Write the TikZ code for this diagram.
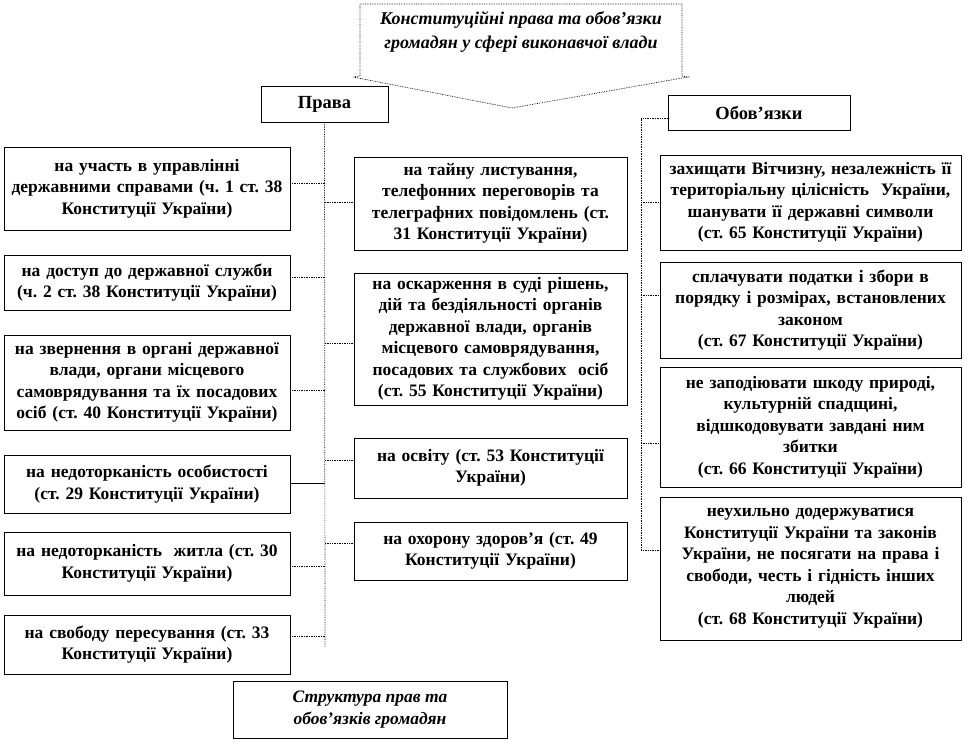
\documentclass[tikz,border=0pt]{standalone}
\usepackage{fontspec}
\setmainfont{Liberation Serif}
\frenchspacing
\begin{document}
\begin{tikzpicture}[x=1pt,y=-1pt]
\tikzset{
  txt/.style={font=\bfseries\fontsize{17.5}{21.5}\selectfont, align=center},
  box/.style={txt, draw=black, line width=0.7pt, inner sep=0pt},
  conn/.style={draw=black, line width=0.7pt, densely dotted},
  callout/.style={draw=black, line width=0.7pt, densely dotted}
}
\useasboundingbox (0,0) rectangle (965,743);

% title callout
\draw[callout] (360,4) -- (682,4) -- (682,76) -- (688,77) -- (512,108) -- (353,77) -- (360,76) -- cycle;
\node[txt, font=\bfseries\itshape\fontsize{18}{24}\selectfont] (title) at (521,32)
  {Конституційні права та обов'язки\\громадян у сфері виконавчої влади};

% headers
\node[box, font=\bfseries\fontsize{18.5}{22}\selectfont, minimum width=127, minimum height=36] (prava) at (324.5,104) {Права};
\node[box, font=\bfseries\fontsize{18.5}{22}\selectfont, minimum width=182, minimum height=35] (obov) at (759,112.5) {Обов’язки};

% left column
\node[box, minimum width=286, minimum height=83, text width=282] (L1) at (147,188.5)
  {на участь в управлінні\\державними справами (ч. 1 ст. 38\\Конституції України)};
\node[box, minimum width=286, minimum height=55, text width=282] (L2) at (147,282.5)
  {на доступ до державної служби\\(ч. 2 ст. 38 Конституції України)};
\node[box, minimum width=286, minimum height=95, text width=282] (L3) at (147,382.5)
  {на звернення в органі державної\\влади, органи місцевого\\самоврядування та їх посадових\\осіб (ст. 40 Конституції України)};
\node[box, minimum width=286, minimum height=58, text width=282] (L4) at (147,484)
  {на недоторканість особистості\\(ст. 29 Конституції України)};
\node[box, minimum width=286, minimum height=63, text width=282] (L5) at (147,563.5)
  {на недоторканість\ \ житла (ст. 30\\Конституції України)};
\node[box, minimum width=286, minimum height=59, text width=282] (L6) at (147,644.5)
  {на свободу пересування (ст. 33\\Конституції України)};

% middle column
\node[box, minimum width=273, minimum height=93, text width=269] (M1) at (490.5,203.5)
  {на тайну листування,\\телефонних переговорів та\\телеграфних повідомлень (ст.\\31 Конституції України)};
\node[box, minimum width=273, minimum height=132, text width=269] (M2) at (490.5,339)
  {на оскарження в суді рішень,\\дій та бездіяльності органів\\державної влади, органів\\місцевого самоврядування,\\посадових та службових\ \ осіб\\(ст. 55 Конституції України)};
\node[box, minimum width=273, minimum height=60, text width=269] (M3) at (490.5,468)
  {на освіту (ст. 53 Конституції\\України)};
\node[box, minimum width=273, minimum height=58, text width=269] (M4) at (490.5,551)
  {на охорону здоров'я (ст. 49\\Конституції України)};

% right column
\node[box, minimum width=301, minimum height=95, text width=297] (R1) at (810.5,202.5)
  {захищати Вітчизну, незалежність її\\територіальну цілісність\ \ України,\\шанувати її державні символи\\(ст. 65 Конституції України)};
\node[box, minimum width=301, minimum height=96, text width=297] (R2) at (810.5,310)
  {сплачувати податки і збори в\\порядку і розмірах, встановлених\\законом\\(ст. 67 Конституції України)};
\node[box, minimum width=301, minimum height=120, text width=297] (R3) at (810.5,427)
  {не заподіювати шкоду природі,\\культурній спадщині,\\відшкодовувати завдані ним\\збитки\\(ст. 66 Конституції України)};
\node[box, minimum width=301, minimum height=143, text width=297] (R4) at (810.5,568.5)
  {неухильно додержуватися\\Конституції України та законів\\України, не посягати на права і\\свободи, честь і гідність інших\\людей\\(ст. 68 Конституції України)};

% bottom caption
\node[box, font=\bfseries\itshape\fontsize{17.5}{21.5}\selectfont, minimum width=274, minimum height=57] (cap) at (370,709.5)
  {Структура прав та\\обов'язків громадян};

% left spine
\coordinate (lend) at (325,647);
\coordinate (ls1) at (325,183);
\coordinate (ls2) at (325,277);
\coordinate (ls3) at (325,390);
\coordinate (ls4) at (325,483);
\coordinate (ls5) at (325,566);
\coordinate (ls6) at (325,636);
\coordinate (ms1) at (325,202);
\coordinate (ms2) at (325,343);
\coordinate (ms3) at (325,460);
\coordinate (ms4) at (325,543);
\draw[conn] (prava.south) -- (lend);
\draw[conn] (ls1) -- (ls1 -| L1.east);
\draw[conn] (ls2) -- (ls2 -| L2.east);
\draw[conn] (ls3) -- (ls3 -| L3.east);
\draw[draw=black, line width=0.7pt] (ls4) -- (ls4 -| L4.east);
\draw[conn] (ls5) -- (ls5 -| L5.east);
\draw[conn] (ls6) -- (ls6 -| L6.east);
\draw[conn] (ms1) -- (ms1 -| M1.west);
\draw[conn] (ms2) -- (ms2 -| M2.west);
\draw[conn] (ms3) -- (ms3 -| M3.west);
\draw[conn] (ms4) -- (ms4 -| M4.west);

% right spine
\coordinate (rtop) at (641,118);
\coordinate (rs1) at (641,202);
\coordinate (rs2) at (641,295);
\coordinate (rs3) at (641,443);
\coordinate (rs4) at (641,550);
\draw[conn] (rtop -| obov.west) -- (rtop) -- (rs4) -- (rs4 -| R4.west);
\draw[conn] (rs1) -- (rs1 -| R1.west);
\draw[conn] (rs2) -- (rs2 -| R2.west);
\draw[conn] (rs3) -- (rs3 -| R3.west);
\end{tikzpicture}
\end{document}
